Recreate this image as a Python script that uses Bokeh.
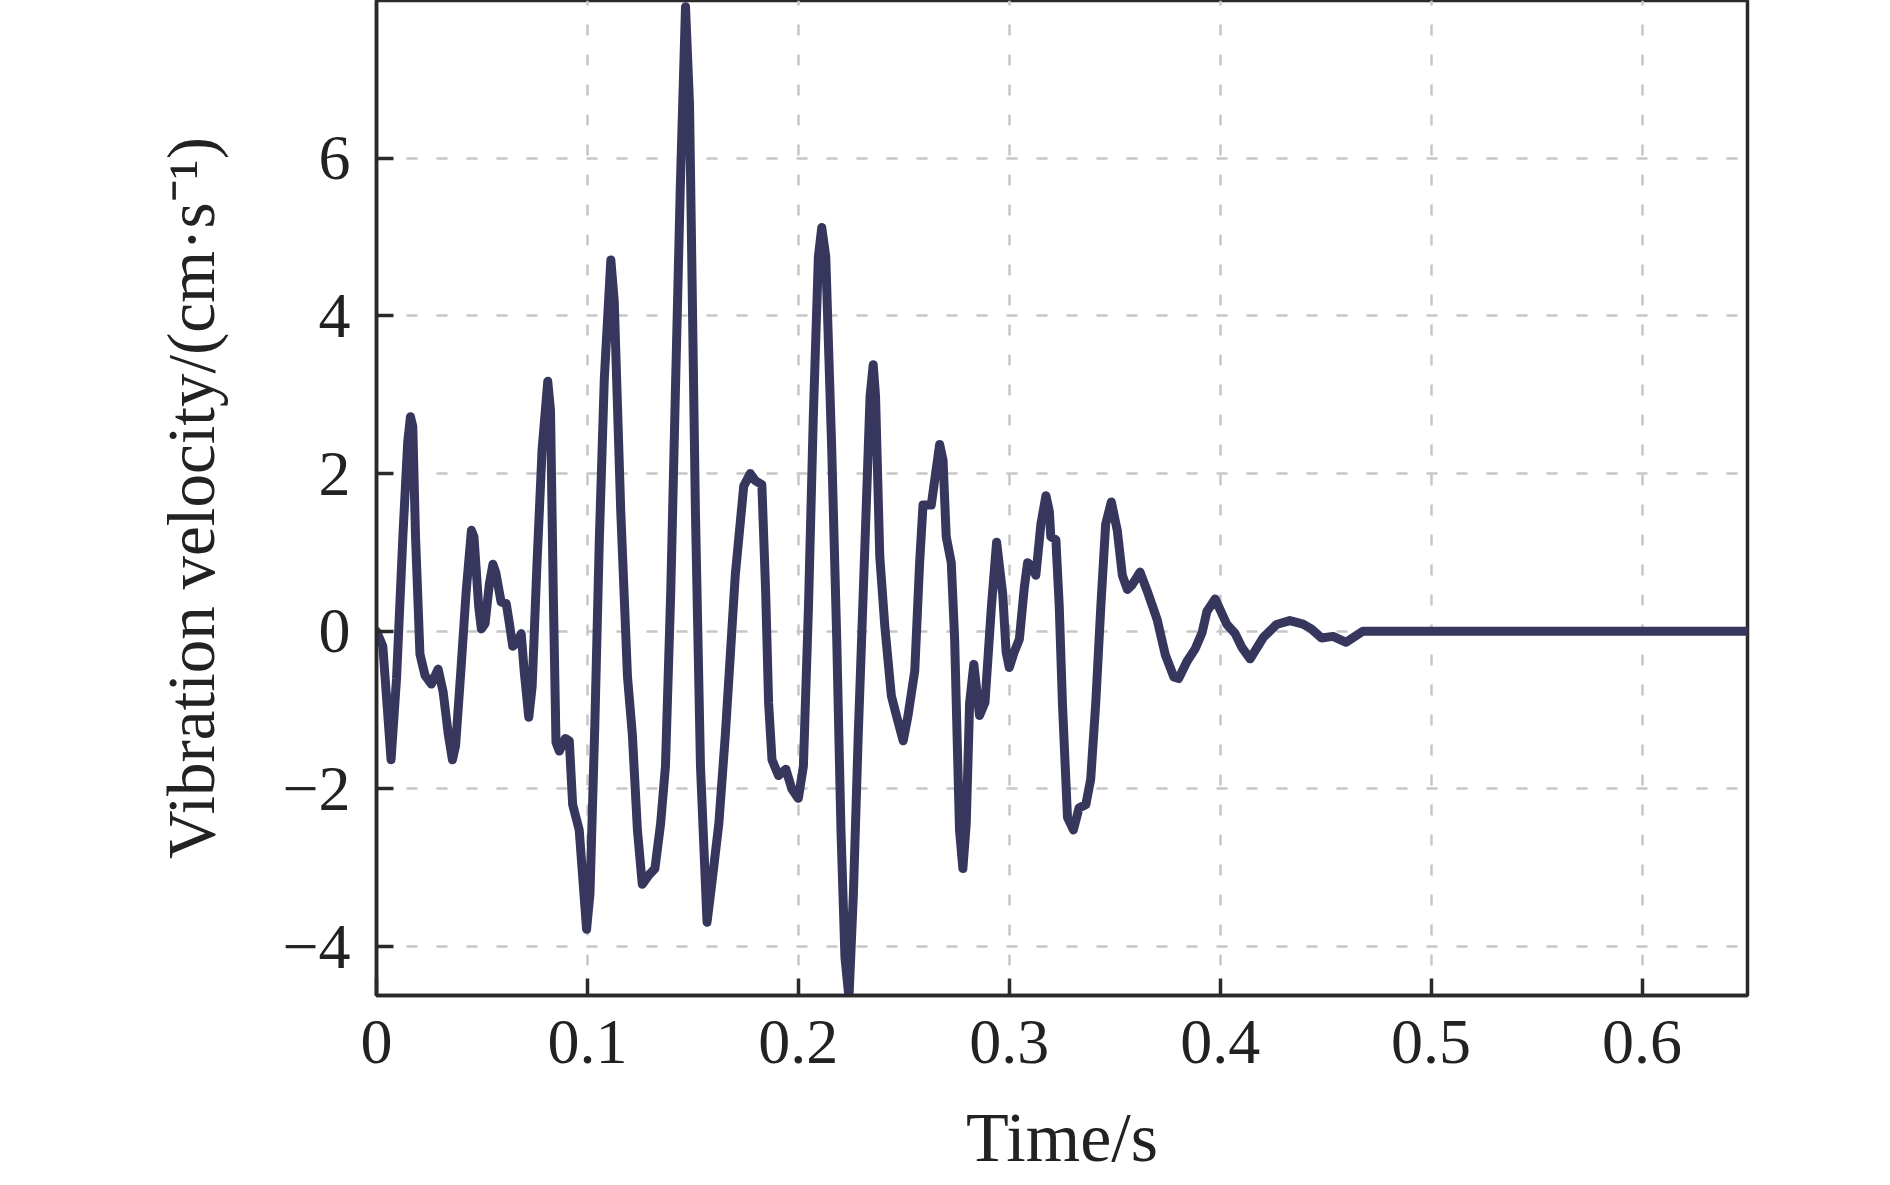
from bokeh.plotting import figure
from bokeh.models import Range1d, FixedTicker, NumeralTickFormatter
from bokeh.embed import file_html
from bokeh.resources import INLINE

# ---- data ----
time_s = [0.000, 0.003, 0.0069, 0.0095, 0.0125, 0.0148, 0.0161, 0.0172, 0.0185, 0.0206,
          0.023, 0.026, 0.0292, 0.0316, 0.034, 0.036, 0.0375, 0.040, 0.0425, 0.045,
          0.0462, 0.0485, 0.0497, 0.0515, 0.0535, 0.0552, 0.0565, 0.0591, 0.0615, 0.063,
          0.0646, 0.0665, 0.0686, 0.070, 0.0722, 0.0738, 0.076, 0.0785, 0.0812, 0.0825,
          0.0838, 0.0851, 0.0867, 0.0895, 0.0914, 0.093, 0.0961, 0.0996, 0.1012, 0.1035,
          0.1056, 0.108, 0.1111, 0.1127, 0.1158, 0.119, 0.1213, 0.1237, 0.126, 0.1292,
          0.132, 0.1347, 0.137, 0.1395, 0.1418, 0.144, 0.1465, 0.1484, 0.1512, 0.1536,
          0.1567, 0.1591, 0.1623, 0.1654, 0.1701, 0.1741, 0.1772, 0.1796, 0.1827, 0.1845,
          0.1859, 0.1875, 0.1906, 0.1941, 0.1969, 0.2, 0.2024, 0.2048, 0.2071, 0.2095,
          0.2111, 0.213, 0.2158, 0.2182, 0.2202, 0.2221, 0.224, 0.2261, 0.2284, 0.2316,
          0.234, 0.2355, 0.2366, 0.2386, 0.241, 0.2441, 0.2465, 0.2497, 0.252, 0.2552,
          0.2575, 0.2591, 0.263, 0.267, 0.2686, 0.2701, 0.2725, 0.2741, 0.2764, 0.278,
          0.2796, 0.2812, 0.2832, 0.2859, 0.2885, 0.2915, 0.294, 0.2969, 0.2985, 0.3,
          0.3024, 0.3048, 0.3071, 0.3087, 0.3103, 0.3126, 0.315, 0.3174, 0.319, 0.3197,
          0.3221, 0.3237, 0.3252, 0.3276, 0.3304, 0.3331, 0.3363, 0.3386, 0.341, 0.3434,
          0.3457, 0.3484, 0.3512, 0.3536, 0.356, 0.3583, 0.362, 0.3654, 0.3701, 0.374,
          0.378, 0.3803, 0.3843, 0.3882, 0.3914, 0.3937, 0.3976, 0.4031, 0.4071, 0.4102,
          0.4142, 0.4204, 0.4267, 0.433, 0.4393, 0.4432, 0.448, 0.4535, 0.4597, 0.4676,
          0.65]
velocity = [0.00, -0.19, -1.63, -0.6, 1.2, 2.4, 2.72, 2.6, 1.2, -0.29,
            -0.56, -0.67, -0.48, -0.77, -1.3, -1.63, -1.45, -0.5, 0.5, 1.28,
            1.2, 0.3, 0.03, 0.1, 0.6, 0.85, 0.75, 0.37, 0.35, 0.1,
            -0.19, -0.15, -0.03, -0.5, -1.09, -0.7, 0.8, 2.3, 3.17, 2.8,
            0.5, -1.41, -1.52, -1.36, -1.39, -2.2, -2.52, -3.78, -3.33, -1.2,
            1.12, 3.2, 4.71, 4.19, 1.52, -0.58, -1.31, -2.52, -3.21, -3.09,
            -3.01, -2.44, -1.71, 0.5, 3.14, 5.6, 7.92, 6.69, 1.52, -1.71,
            -3.69, -3.17, -2.44, -1.31, 0.71, 1.84, 2.0, 1.91, 1.86, 0.5,
            -0.91, -1.63, -1.83, -1.75, -2.0, -2.12, -1.71, 0.31, 2.73, 4.75,
            5.12, 4.75, 2.33, -0.1, -2.52, -4.14, -4.65, -3.33, -1.31, 1.12,
            2.98, 3.38, 2.98, 0.95, 0.06, -0.82, -1.07, -1.39, -1.07, -0.5,
            0.87, 1.6, 1.6, 2.37, 2.17, 1.2, 0.87, -0.1, -2.52, -3.01,
            -2.44, -0.91, -0.42, -1.07, -0.9, 0.3, 1.13, 0.47, -0.26, -0.46,
            -0.26, -0.1, 0.55, 0.87, 0.83, 0.71, 1.36, 1.72, 1.52, 1.2,
            1.16, 0.31, -0.91, -2.36, -2.52, -2.24, -2.2, -1.88, -0.91, 0.31,
            1.36, 1.64, 1.28, 0.71, 0.53, 0.59, 0.75, 0.51, 0.15, -0.3,
            -0.58, -0.6, -0.38, -0.22, -0.02, 0.25, 0.41, 0.09, -0.03, -0.2,
            -0.35, -0.08, 0.085, 0.135, 0.09, 0.03, -0.085, -0.065, -0.14, 0.0,
            0.0]

x_ticks = [0, 0.1, 0.2, 0.3, 0.4, 0.5, 0.6]
y_ticks = [-4, -2, 0, 2, 4, 6]
y_tick_labels = {-4: "\u22124", -2: "\u22122", 0: "0", 2: "2", 4: "4", 6: "6"}

FONT = "Liberation Serif"
AXIS_COLOR = "#2a2a2a"

p = figure(width=1767, height=1180, output_backend="svg", toolbar_location=None,
           x_range=Range1d(0, 0.65), y_range=Range1d(-4.62, 8.0),
           min_border_left=376, min_border_right=20, min_border_top=0,
           min_border_bottom=185)

p.line(time_s, velocity, line_color="#37375e", line_width=9, line_join="round",
       line_cap="round")

p.outline_line_color = AXIS_COLOR
p.outline_line_width = 3.5
p.outline_line_alpha = 1.0

for ax in (p.xaxis[0], p.yaxis[0]):
    ax.axis_line_color = AXIS_COLOR
    ax.axis_line_width = 3.5
    ax.major_tick_line_color = AXIS_COLOR
    ax.major_tick_line_width = 3.5
    ax.major_tick_in = 17
    ax.major_tick_out = 0
    ax.minor_tick_line_color = None
    ax.major_label_text_font = FONT
    ax.major_label_text_font_size = "64px"
    ax.major_label_text_color = "#222222"
    ax.axis_label_text_font = FONT
    ax.axis_label_text_font_style = "normal"
    ax.axis_label_text_color = "#222222"

p.xaxis.ticker = FixedTicker(ticks=x_ticks)
p.xaxis.formatter = NumeralTickFormatter(format="0.[0]")
p.xaxis.axis_label = "Time/s"
p.xaxis.axis_label_text_font_size = "70px"
p.xaxis.major_label_standoff = 25
p.xaxis.axis_label_standoff = 33

p.yaxis.ticker = FixedTicker(ticks=y_ticks)
p.yaxis.major_label_overrides = y_tick_labels
p.yaxis.axis_label = "Vibration velocity/(cm\u00b7s\u207b\u00b9)"
p.yaxis.axis_label_text_font_size = "67px"
p.yaxis.major_label_standoff = 26
p.yaxis.axis_label_standoff = 51

for g in (p.xgrid[0], p.ygrid[0]):
    g.grid_line_color = "#c6c6c6"
    g.grid_line_width = 2.5
    g.grid_line_dash = "11 19"

p.background_fill_color = "white"
p.border_fill_color = "white"

open("out.html", "w").write(file_html(p, INLINE))
